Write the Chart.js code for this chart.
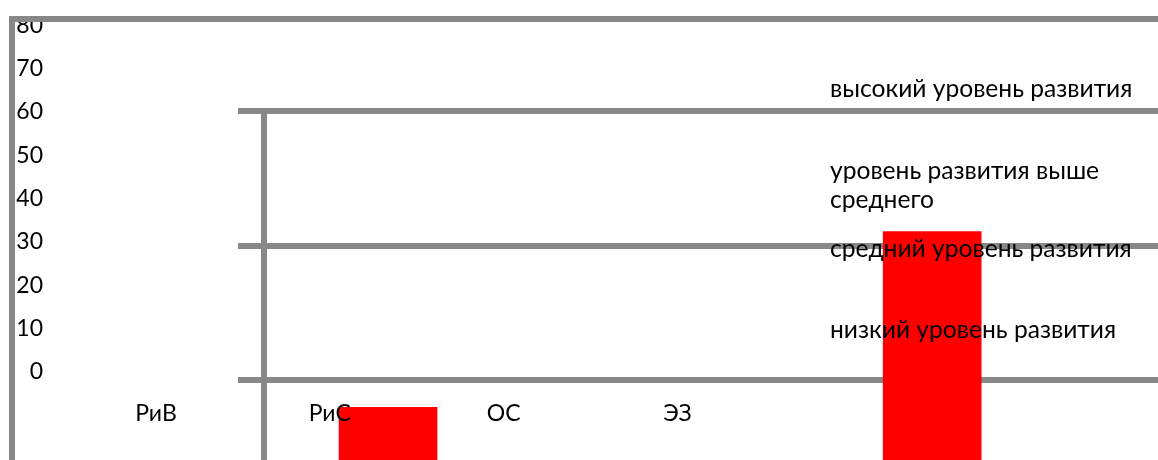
<!DOCTYPE html>
<html>
<head>
<meta charset="utf-8">
<script src="https://cdn.jsdelivr.net/npm/chart.js@4.4.1/dist/chart.umd.min.js"></script>
<style>
  html, body { margin: 0; padding: 0; background: #fff; }
  #wrap { position: relative; width: 1158px; height: 460px; }
</style>
</head>
<body>
<div id="wrap"><canvas id="chart"></canvas></div>
<script>
// numbers down the left edge
const leftTicks = [0, 10, 20, 30, 40, 50, 60, 70, 80];
// categories written under the zero line
const categories = ['РиВ', 'РиС', 'ОС', 'ЭЗ'];
// the two red bars
const barValues = [-6.1, 33.1];
// level lines of the inner plot
const levelLines = [0, 30, 60];
// captions of the levels, top to bottom
const levelNames = [
  ['высокий уровень развития'],
  ['уровень развития выше', 'среднего'],
  ['средний уровень развития'],
  ['низкий уровень развития']
];

const GRAY = '#888888';

const overlay = {
  id: 'overlay',
  beforeDatasetsDraw(chart, args, opts) {
    const ctx = chart.ctx;
    const yL = chart.scales.yL;
    ctx.save();
    ctx.font = opts.tickFont;
    ctx.fillStyle = '#000';
    ctx.textAlign = 'right';
    ctx.textBaseline = 'alphabetic';
    leftTicks.forEach(v => ctx.fillText(String(v), opts.tickRight, yL.getPixelForValue(v)));
    // outer frame, only its top and left sides are on screen
    ctx.strokeStyle = GRAY;
    ctx.lineWidth = 6;
    ctx.lineJoin = 'miter';
    ctx.beginPath();
    ctx.moveTo(opts.frameLeft, chart.height + 5);
    ctx.lineTo(opts.frameLeft, opts.frameTop);
    ctx.lineTo(chart.width + 5, opts.frameTop);
    ctx.stroke();
    ctx.restore();
  },
  afterDatasetsDraw(chart, args, opts) {
    const ctx = chart.ctx;
    const { y, xc } = chart.scales;
    ctx.save();
    ctx.fillStyle = '#000';
    ctx.textBaseline = 'alphabetic';
    ctx.font = opts.tickFont;
    ctx.textAlign = 'center';
    categories.forEach((c, i) => ctx.fillText(c, xc.getPixelForValue(i), y.getPixelForValue(opts.categoryAt)));
    ctx.font = opts.captionFont;
    ctx.textAlign = 'left';
    levelNames.forEach((lines, i) => {
      const top = y.getPixelForValue(opts.captionAt[i]);
      lines.forEach((t, j) => ctx.fillText(t, opts.captionX, top + j * opts.lineHeight));
    });
    ctx.restore();
  }
};

new Chart(document.getElementById('chart'), {
  type: 'bar',
  data: {
    datasets: [{
      data: barValues.map((v, i) => ({ x: i, y: v })),
      xAxisID: 'x',
      yAxisID: 'y',
      backgroundColor: '#ff0000',
      borderWidth: 0,
      barThickness: 98,
      base: -20
    }]
  },
  options: {
    responsive: true,
    maintainAspectRatio: false,
    animation: false,
    events: [],
    layout: { padding: { left: 238, top: 111, right: 0, bottom: 0 } },
    plugins: {
      legend: { display: false },
      tooltip: { enabled: false },
      overlay: {
        tickFont: '23px Lato',
        captionFont: '24.6px Lato',
        tickRight: 43,
        frameLeft: 12,
        frameTop: 19,
        categoryAt: -9.14,
        captionX: 830,
        captionAt: [63.2, 44.8, 27.5, 9.3],
        lineHeight: 29.3
      }
    },
    scales: {
      y: {
        type: 'linear',
        position: 'left',
        min: -17.84,
        max: 60,
        afterBuildTicks: axis => { axis.ticks = levelLines.map(v => ({ value: v })); },
        ticks: { display: false },
        grid: { color: GRAY, lineWidth: 6, drawTicks: true, tickLength: 26 },
        border: { display: true, color: GRAY, width: 6 }
      },
      x: { type: 'linear', display: false, offset: false, min: -0.228, max: 1.415 },
      xc: { type: 'linear', axis: 'x', display: false, offset: false, min: 0.6214, max: 5.765 },
      yL: { type: 'linear', axis: 'y', position: 'left', display: false, min: -18.62, max: 61.92 }
    }
  },
  plugins: [overlay]
});
</script>
</body>
</html>
